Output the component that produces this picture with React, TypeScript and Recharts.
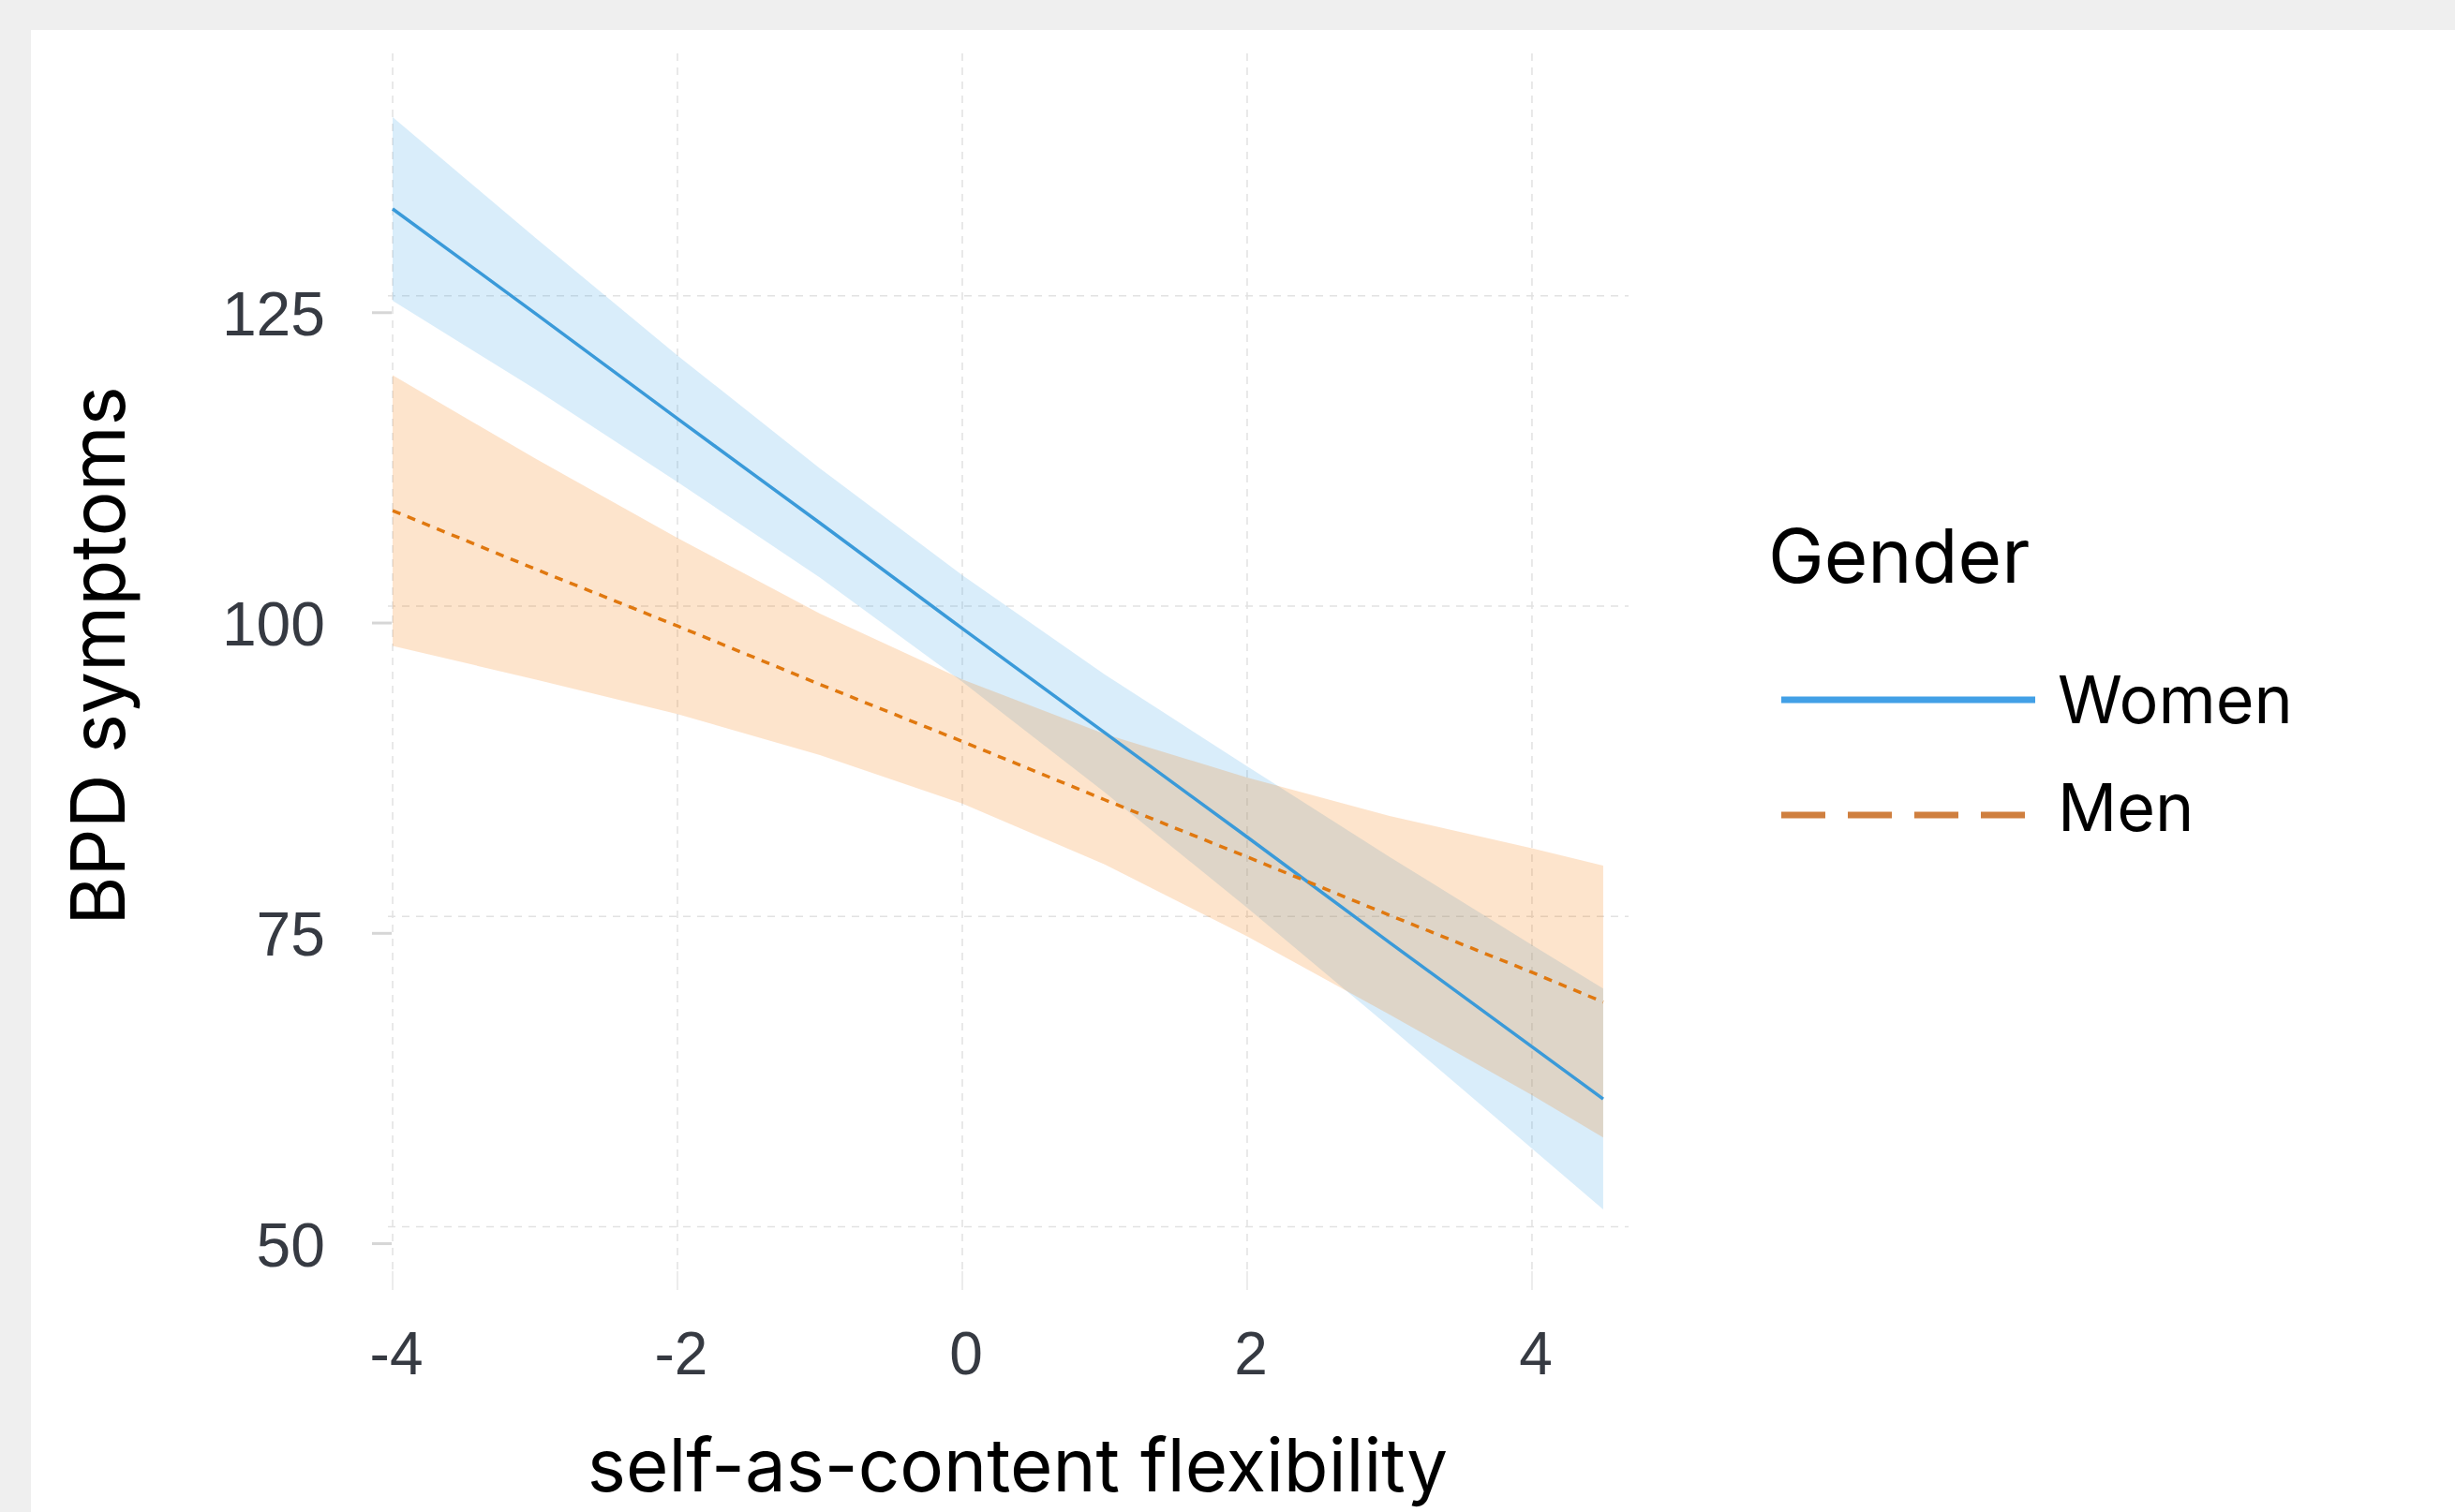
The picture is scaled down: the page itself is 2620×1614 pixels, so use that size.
import React from 'react';
import { ComposedChart, Area, Line, XAxis, YAxis, CartesianGrid, Legend } from 'recharts';

// x positions of the fitted predictions (self-as-content flexibility)
const xValues = [-4, -3, -2, -1, 0, 1, 2, 3, 4, 4.5];

// Women: fitted BPD symptoms and 95% CI
const womenFit = [132.0, 123.6, 115.1, 106.7, 98.2, 89.8, 81.4, 72.9, 64.5, 60.3];
const womenLower = [124.6, 117.5, 110.0, 102.3, 93.9, 85.0, 75.7, 66.1, 56.3, 51.4];
const womenUpper = [139.4, 129.7, 120.2, 111.1, 102.5, 94.5, 87.1, 79.8, 72.7, 69.2];

// Men: fitted BPD symptoms and 95% CI
const menFit = [107.7, 103.0, 98.4, 93.7, 89.1, 84.4, 79.8, 75.1, 70.5, 68.1];
const menLower = [96.8, 94.1, 91.3, 88.0, 84.1, 79.2, 73.4, 67.1, 60.6, 57.2];
const menUpper = [118.6, 111.9, 105.5, 99.4, 94.1, 89.7, 86.2, 83.1, 80.5, 79.1];

const xTicks = [-4, -2, 0, 2, 4];
const yTicks = [50, 75, 100, 125];
const xDomain = [-4.033, 4.678];
const yDomain = [46.42, 144.53];

const seriesNames = ['Women', 'Men'];
const legendTitle = 'Gender';
const xTitle = 'self-as-content flexibility';
const yTitle = 'BPD symptoms';

const WOMEN_COLOR = '#3a9ad9';
const MEN_COLOR = '#e0780f';
const WOMEN_BAND = 'rgb(65,165,230)';
const MEN_BAND = 'rgb(245,120,0)';

const rows = xValues.map((x, i) => ({
  x,
  womenBand: [womenLower[i], womenUpper[i]],
  menBand: [menLower[i], menUpper[i]],
  womenFit: womenFit[i],
  menFit: menFit[i],
}));

const TITLE_FONT = 'Inter, "Noto Sans", sans-serif';
const TICK_FONT = '"Liberation Sans", Arial, sans-serif';

const applyScale = (axis: any, v: number) => {
  const s = axis && axis.scale;
  if (!s) return undefined;
  if (typeof s === 'function') return s(v);
  if (typeof s.map === 'function') return s.map(v);
  return undefined;
};

const verticalGen = (props: any) =>
  xTicks.map((t) => applyScale(props.xAxis, t)).filter((v) => typeof v === 'number');
const horizontalGen = (props: any) =>
  yTicks.map((t) => applyScale(props.yAxis, t)).filter((v) => typeof v === 'number');

const YTick = (props: any) => {
  const { x, y, payload } = props;
  return (
    <g>
      <line x1={x + 50} x2={x + 71} y1={y + 18} y2={y + 18} stroke="#d6d6d6" strokeWidth={3} />
      <text x={x} y={y + 42} textAnchor="end" fontSize={66} fontFamily={TICK_FONT} fill="#363a42">
        {payload.value}
      </text>
    </g>
  );
};

const XTick = (props: any) => {
  const { x, y, payload } = props;
  return (
    <text x={x + 4} y={y + 90} textAnchor="middle" fontSize={64} fontFamily={TICK_FONT} fill="#363a42">
      {payload.value}
    </text>
  );
};

const XTitle = () => (
  <text x={1086} y={1592} textAnchor="middle" fontSize={78} fontFamily={TITLE_FONT} fill="#000">
    {xTitle}
  </text>
);

const YTitle = () => (
  <text
    x={133}
    y={700}
    transform="rotate(-90 133 700)"
    textAnchor="middle"
    fontSize={80}
    fontFamily={TITLE_FONT}
    fill="#000"
  >
    {yTitle}
  </text>
);

const legendStyles = [
  { color: '#42a0e6', dash: undefined as string | undefined },
  { color: '#cf7f3f', dash: '47 24' },
];

const LegendContent = () => (
  <svg width={700} height={420} style={{ display: 'block' }}>
    <text x={27} y={82} fontSize={80} fontFamily={TITLE_FONT} fill="#000">
      {legendTitle}
    </text>
    {seriesNames.map((name, i) => (
      <g key={name}>
        <line
          x1={41}
          x2={i === 0 ? 312 : 304}
          y1={207 + i * 123}
          y2={207 + i * 123}
          stroke={legendStyles[i].color}
          strokeWidth={7}
          strokeDasharray={legendStyles[i].dash}
        />
        <text x={336} y={232 + i * 115} fontSize={70} fontFamily={TITLE_FONT} fill="#000">
          {name}
        </text>
      </g>
    ))}
  </svg>
);

export default function App() {
  return (
    <div
      style={{
        position: 'absolute',
        left: 0,
        top: 0,
        width: 2620,
        height: 1614,
        background: '#efefef',
        overflow: 'hidden',
      }}
    >
      <div style={{ position: 'absolute', left: 33, top: 32, width: 2587, height: 1582, background: '#fff' }} />
      <div style={{ position: 'absolute', left: 0, top: 0 }}>
        <ComposedChart
          width={2620}
          height={1614}
          data={rows}
          margin={{ top: 57, right: 882, bottom: 197, left: 314 }}
        >
          <CartesianGrid
            stroke="#e2e2e2"
            strokeWidth={1.5}
            strokeDasharray="8 7"
            verticalCoordinatesGenerator={verticalGen}
            horizontalCoordinatesGenerator={horizontalGen}
          />
          <XAxis
            dataKey="x"
            type="number"
            domain={xDomain}
            ticks={xTicks}
            allowDataOverflow
            interval={0}
            axisLine={false}
            tickLine={{ stroke: '#ececec', strokeWidth: 2 }}
            tickSize={20}
            tickMargin={0}
            height={60}
            tick={<XTick />}
            label={XTitle}
          />
          <YAxis
            type="number"
            domain={yDomain}
            ticks={yTicks}
            allowDataOverflow
            interval={0}
            axisLine={false}
            tickLine={false}
            tickSize={20}
            tickMargin={47}
            width={100}
            tick={<YTick />}
            label={YTitle}
          />
          <Area
            type="linear"
            dataKey="womenBand"
            stroke="none"
            fill={WOMEN_BAND}
            fillOpacity={0.2}
            isAnimationActive={false}
            legendType="none"
            activeDot={false}
          />
          <Line
            type="linear"
            dataKey="womenFit"
            name={seriesNames[0]}
            stroke={WOMEN_COLOR}
            strokeWidth={3.5}
            dot={false}
            activeDot={false}
            isAnimationActive={false}
          />
          <Area
            type="linear"
            dataKey="menBand"
            stroke="none"
            fill={MEN_BAND}
            fillOpacity={0.2}
            isAnimationActive={false}
            legendType="none"
            activeDot={false}
          />
          <Line
            type="linear"
            dataKey="menFit"
            name={seriesNames[1]}
            stroke={MEN_COLOR}
            strokeWidth={3.5}
            strokeDasharray="9 8"
            dot={false}
            activeDot={false}
            isAnimationActive={false}
          />
          <Legend
            layout="vertical"
            align="center"
            verticalAlign="middle"
            content={LegendContent}
            wrapperStyle={{ position: 'absolute', left: 1860, top: 540, width: 700, height: 420 }}
          />
        </ComposedChart>
      </div>
    </div>
  );
}
